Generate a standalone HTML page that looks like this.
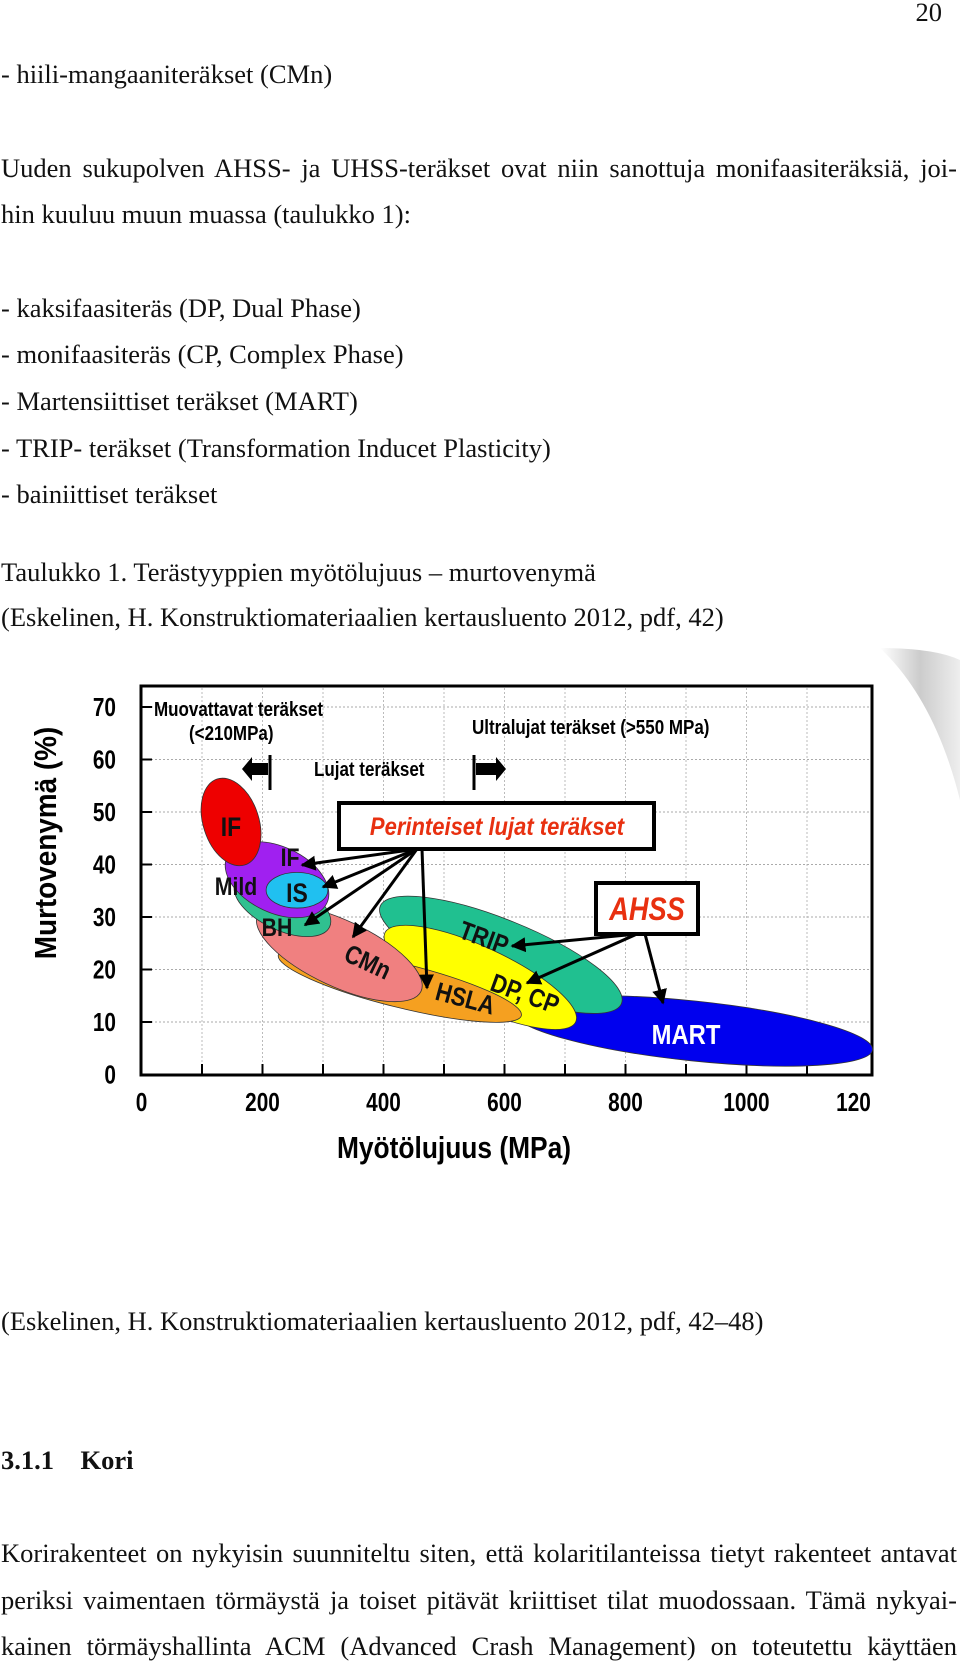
<!DOCTYPE html>
<html><head><meta charset="utf-8">
<style>
html,body{margin:0;padding:0;background:#fff;}
body{width:960px;height:1657px;position:relative;overflow:hidden;font-family:"Liberation Serif",serif;color:#111;}
.t{position:absolute;left:1px;font-size:26.5px;line-height:28px;white-space:nowrap;}
.j{width:956px;text-align:justify;text-align-last:justify;white-space:normal;}
svg text{font-family:"Liberation Sans",sans-serif;font-weight:bold;}
</style></head><body>
<div class="t" style="left:auto;right:18px;top:-2px;">20</div>
<div class="t" style="top:60px;">- hiili-mangaaniteräkset (CMn)</div>
<div class="t j" style="top:154px;">Uuden sukupolven AHSS- ja UHSS-teräkset ovat niin sanottuja monifaasiteräksiä, joi-</div>
<div class="t" style="top:200px;">hin kuuluu muun muassa (taulukko 1):</div>
<div class="t" style="top:294px;">- kaksifaasiteräs (DP, Dual Phase)</div>
<div class="t" style="top:340px;">- monifaasiteräs (CP, Complex Phase)</div>
<div class="t" style="top:387px;">- Martensiittiset teräkset (MART)</div>
<div class="t" style="top:434px;">- TRIP- teräkset (Transformation Inducet Plasticity)</div>
<div class="t" style="top:480px;">- bainiittiset teräkset</div>
<div class="t" style="top:558px;">Taulukko 1. Terästyyppien myötölujuus – murtovenymä</div>
<div class="t" style="top:603px;">(Eskelinen, H. Konstruktiomateriaalien kertausluento 2012, pdf, 42)</div>
<div class="t" style="top:1307px;">(Eskelinen, H. Konstruktiomateriaalien kertausluento 2012, pdf, 42–48)</div>
<div class="t" style="top:1446px;font-weight:bold;">3.1.1&nbsp;&nbsp;&nbsp;&nbsp;Kori</div>
<div class="t j" style="top:1539px;">Korirakenteet on nykyisin suunniteltu siten, että kolaritilanteissa tietyt rakenteet antavat</div>
<div class="t j" style="top:1586px;">periksi vaimentaen törmäystä ja toiset pitävät kriittiset tilat muodossaan. Tämä nykyai-</div>
<div class="t j" style="top:1632px;">kainen törmäyshallinta ACM (Advanced Crash Management) on toteutettu käyttäen</div>

<svg id="chart" width="960" height="1657" style="position:absolute;left:0;top:0;" xmlns="http://www.w3.org/2000/svg">
<defs>
<linearGradient id="gr" x1="0" x2="1"><stop offset="0" stop-color="#fff"/><stop offset="0.5" stop-color="#ccc"/><stop offset="1" stop-color="#eee"/></linearGradient>
<marker id="ah" viewBox="0 0 10 10" refX="9" refY="5" markerWidth="5" markerHeight="5" orient="auto"><path d="M0,0L10,5L0,10z" fill="#000"/></marker>
</defs>
<path d="M880,648 Q935,648 960,660 L960,800 Q935,700 880,648z" fill="url(#gr)"/>
<g id="grid"></g>
<g id="shapes"></g>
<g id="annot"></g>
</svg>
<script>
const xTicks=[0,200,400,600,800,1000,1200];
const xTickLabels=["0","200","400","600","800","1000","120"];
const yTicks=[0,10,20,30,40,50,60,70];
const yTickLabels=["0","10","20","30","40","50","60","70"];
const steelNames=["MART","TRIP","DP, CP","HSLA","CMn","BH","IF","IS","IF-high"];
const steelX=[912,594,560,427,327,233,224,257,148];
const steelY=[8.3,22.8,18.5,17,23.1,32.3,37.1,35.1,48.1];
const steelXSpan=[298,215,174,207,149,86,91,51,46];
const steelYSpan=[5.7,6.7,5.7,4.2,6.3,4.8,6.3,3.4,8.6];
const steelTilt=[6,22,25,14,25,25,25,0,-18];
const steelColors=["#0000ee","#20c090","#ffff00","#f5a020","#f08080","#30c090","#a020f0","#20c0f0","#ee0000"];

const X=v=>141.5+0.605*v, Y=v=>1074.5-5.25*v;
const NS="http://www.w3.org/2000/svg";
function mk(tag,attrs,parent){const e=document.createElementNS(NS,tag);for(const k in attrs)e.setAttribute(k,attrs[k]);parent.appendChild(e);return e;}
const grid=document.getElementById('grid'),shapes=document.getElementById('shapes'),annot=document.getElementById('annot');
const fr=mk('rect',{x:141,y:686,width:731,height:389,fill:'#fff',stroke:'#000','stroke-width':3},grid);


for(let v=100;v<1200;v+=100){const l=mk('line',{x1:X(v),x2:X(v),y1:688,y2:1073,stroke:'#bbb','stroke-dasharray':'2,2'},grid);


const t=mk('line',{x1:X(v),x2:X(v),y1:1064,y2:1074,stroke:'#000','stroke-width':2},grid);

}
yTicks.forEach((v,i)=>{if(v>0){const l=mk('line',{x1:143,x2:870,y1:Y(v),y2:Y(v),stroke:'#aaa','stroke-dasharray':'2,2'},grid);


const t=mk('line',{x1:141,x2:152,y1:Y(v),y2:Y(v),stroke:'#000','stroke-width':2},grid);

}
const tx=mk('text',{x:116,y:Y(v)+9,'text-anchor':'end','font-size':26,transform:`translate(116 0) scale(0.8 1) translate(-116 0)`},grid);tx.textContent=yTickLabels[i];

});
xTicks.forEach((v,i)=>{const xx=i==6?X(v)-14:X(v);const tx=mk('text',{x:xx,y:1111,'text-anchor':'middle','font-size':26,transform:`translate(${xx} 0) scale(0.8 1) translate(${-xx} 0)`},grid);tx.textContent=xTickLabels[i];

});
const yt=mk('text',{x:0,y:0,'text-anchor':'middle','font-size':31,transform:'translate(56 843) rotate(-90) scale(0.9 1)'},grid);yt.textContent='Murtovenymä (%)';


const xt=mk('text',{x:0,y:0,'text-anchor':'middle','font-size':31,transform:'translate(454 1158) scale(0.85 1)'},grid);xt.textContent='Myötölujuus (MPa)';


steelNames.forEach((n,i)=>{const cx=X(steelX[i]),cy=Y(steelY[i]);
const e=mk('ellipse',{cx:cx,cy:cy,rx:steelXSpan[i]*0.605,ry:steelYSpan[i]*5.25,fill:steelColors[i],stroke:'#333','stroke-width':0.8,transform:`rotate(${steelTilt[i]} ${cx} ${cy})`},shapes);

});
const labs=[["IF",231,836,0,'#111',27],["IF",290,866,0,'#111',25],["Mild",236,895,0,'#111',25],["IS",297,902,0,'#111',27],["BH",277,936,0,'#111',25],["CMn",364,970,25,'#111',26],["TRIP",481,946,20,'#111',26],["DP, CP",522,1002,20,'#111',26],["HSLA",463,1007,15,'#111',26],["MART",686,1044,0,'#fff',28]];
labs.forEach(l=>{const t=mk('text',{x:0,y:0,'text-anchor':'middle','font-size':l[5],fill:l[4],transform:`translate(${l[1]} ${l[2]}) rotate(${l[3]}) scale(0.85 1)`},annot);t.textContent=l[0];

});
const hd=[["Muovattavat teräkset",154,716,'start'],["(<210MPa)",189,740,'start'],["Ultralujat teräkset (>550 MPa)",472,734,'start'],["Lujat teräkset",314,776,'start']];
hd.forEach(h=>{const t=mk('text',{x:0,y:0,'font-size':20,transform:`translate(${h[1]} ${h[2]}) scale(0.85 1)`},annot);t.textContent=h[0];

});
mk('line',{x1:270,x2:270,y1:755,y2:790,stroke:'#000','stroke-width':3},annot);
mk('path',{d:'M242,769 L252,757 L252,763 L268,763 L268,775 L252,775 L252,781z',fill:'#000'},annot);
mk('line',{x1:474,x2:474,y1:755,y2:790,stroke:'#000','stroke-width':3},annot);
mk('path',{d:'M506,769 L496,757 L496,763 L476,763 L476,775 L496,775 L496,781z',fill:'#000'},annot);
const b1=mk('rect',{x:339,y:803,width:315,height:46,fill:'#fff',stroke:'#000','stroke-width':4},annot);


const bt=mk('text',{x:0,y:0,'text-anchor':'middle','font-size':25,fill:'#e83010','font-style':'italic',transform:'translate(497 835) scale(0.88 1)'},annot);bt.textContent='Perinteiset lujat teräkset';
const b2=mk('rect',{x:596,y:883,width:102,height:51,fill:'#fff',stroke:'#000','stroke-width':4},annot);


const at=mk('text',{x:0,y:0,'text-anchor':'middle','font-size':32,fill:'#e83010','font-style':'italic',transform:'translate(647 920) scale(0.85 1)'},annot);at.textContent='AHSS';
const arr=[[417,849,302,865],[417,849,323,887],[417,849,305,925],[417,849,353,937],[422,849,427,988],[637,934,512,946],[637,934,527,983],[645,934,663,1003]];
arr.forEach(a=>{const l=mk('line',{x1:a[0],y1:a[1],x2:a[2],y2:a[3],stroke:'#000','stroke-width':3,'marker-end':'url(#ah)'},annot);

});
</script>
</body></html>
